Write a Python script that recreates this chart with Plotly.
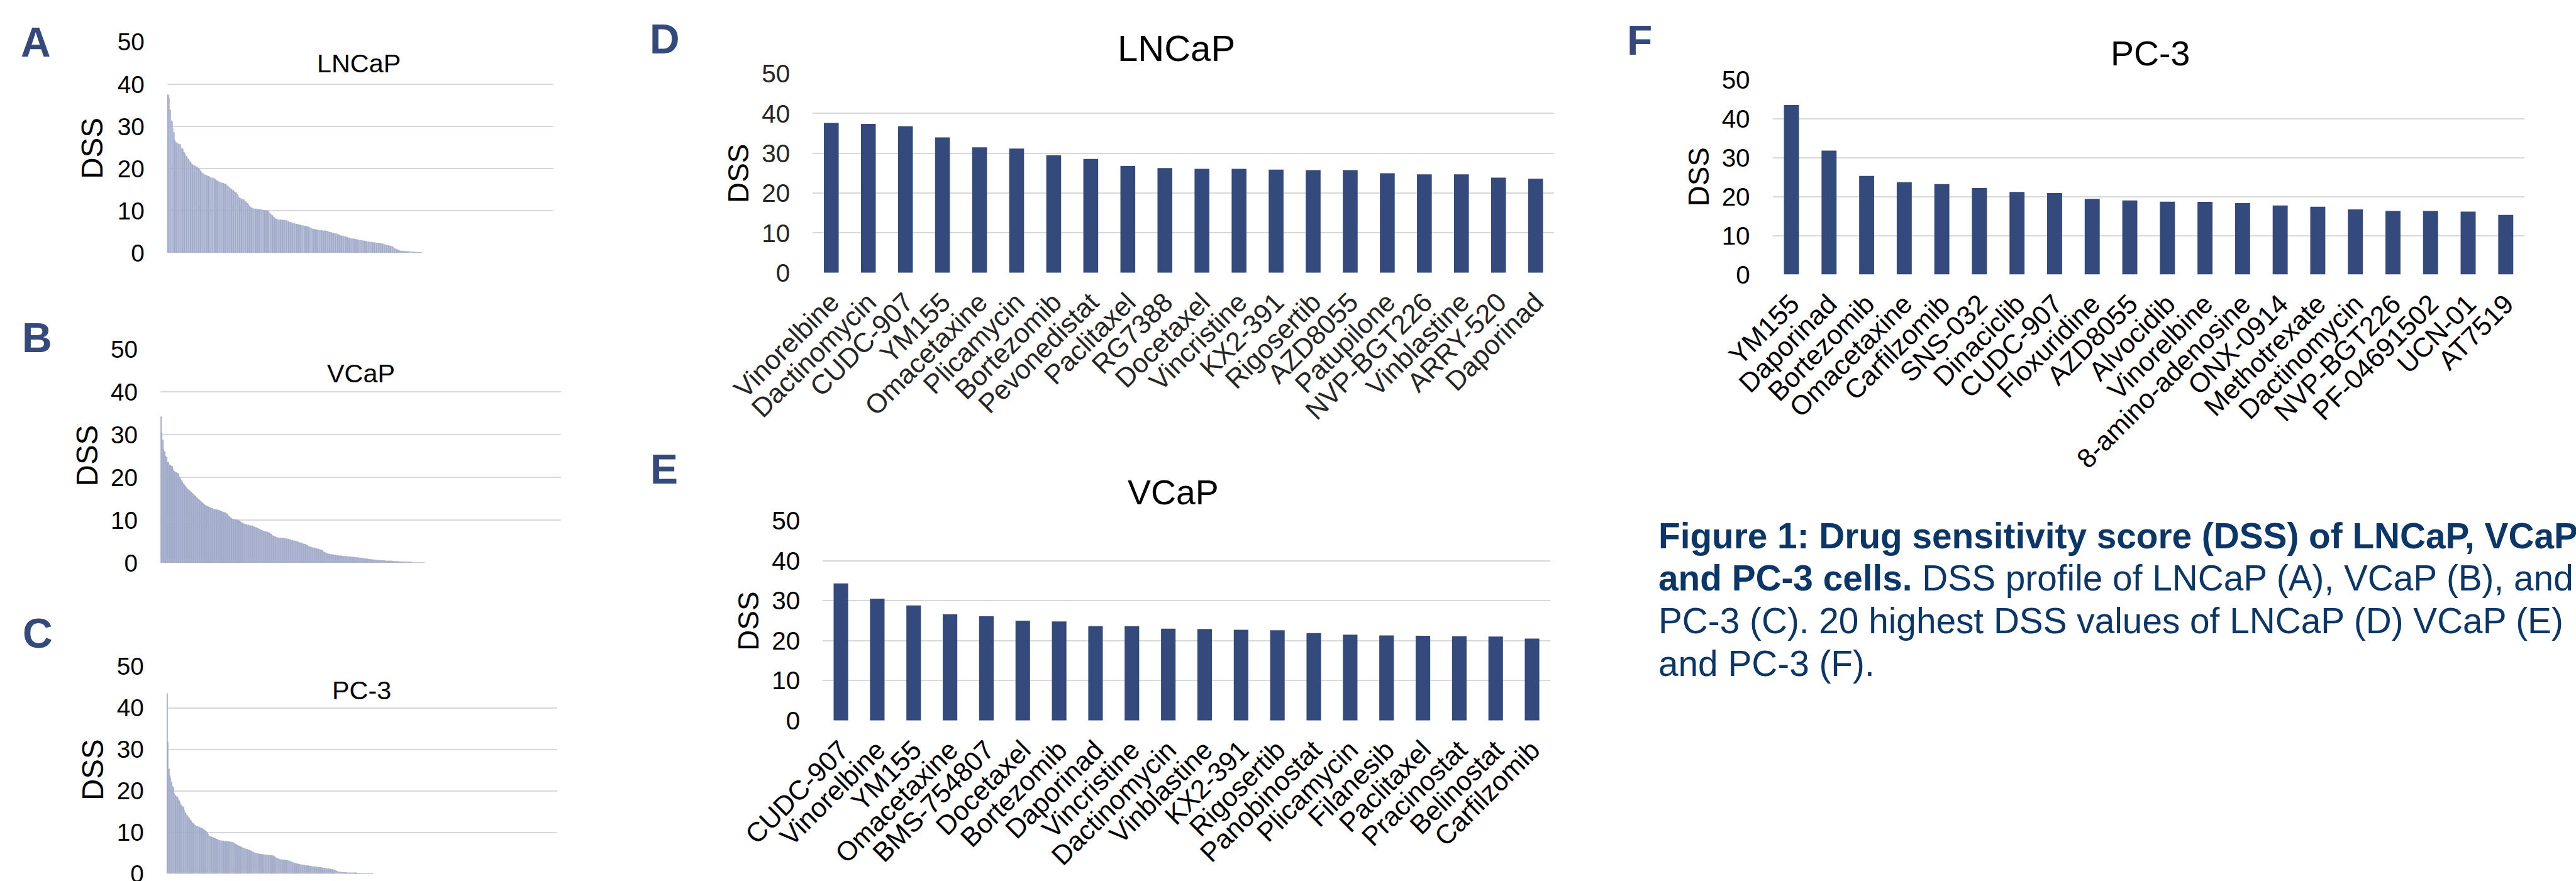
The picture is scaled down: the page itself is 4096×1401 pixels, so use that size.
import plotly.graph_objects as go

# ---------------------------------------------------------------------------
# Data: drug sensitivity scores (DSS)
# ---------------------------------------------------------------------------
# Size of the screened drug library (x extent of the profile panels A-C)
N_DRUGS = 425

# Full DSS profiles, sorted high -> low (only drugs with DSS > 0 listed)
lncap_profile = [
    37.6, 37.4, 36.8, 34.0, 31.5, 31.2, 29.5, 28.6, 26.8, 26.3, 26.1, 26.1, 25.9, 25.8, 25.8, 25.0, 24.7, 24.7, 23.9, 23.6,
    23.3, 23.0, 22.6, 22.3, 22.0, 21.7, 21.4, 21.0, 20.9, 20.8, 20.7, 20.6, 20.5, 20.4, 20.2, 19.9, 19.6, 19.3, 19.1, 18.9,
    18.7, 18.6, 18.5, 18.4, 18.3, 18.2, 18.1, 18.0, 17.9, 17.9, 17.8, 17.7, 17.6, 17.4, 17.2, 17.1, 17.0, 16.9, 16.8, 16.7,
    16.6, 16.6, 16.5, 16.4, 16.4, 16.2, 16.0, 15.8, 15.6, 15.4, 15.2, 15.0, 14.9, 14.7, 14.5, 14.4, 14.3, 13.9, 13.5, 13.1,
    13.0, 12.9, 12.8, 12.7, 12.7, 12.4, 12.2, 12.0, 11.8, 11.5, 11.2, 11.0, 10.8, 10.7, 10.6, 10.5, 10.5, 10.5, 10.4, 10.4,
    10.4, 10.3, 10.3, 10.3, 10.2, 10.2, 10.2, 10.1, 10.1, 10.1, 10.0, 9.9, 9.7, 9.4, 9.2, 9.0, 8.8, 8.5, 8.3, 8.1,
    8.0, 8.0, 7.9, 7.9, 7.9, 7.9, 7.8, 7.8, 7.8, 7.8, 7.8, 7.7, 7.6, 7.5, 7.4, 7.3, 7.3, 7.2, 7.1, 7.0,
    7.0, 6.9, 6.9, 6.8, 6.8, 6.7, 6.7, 6.6, 6.6, 6.5, 6.5, 6.4, 6.4, 6.3, 6.3, 6.2, 6.1, 6.0, 5.9, 5.8,
    5.7, 5.7, 5.6, 5.6, 5.5, 5.5, 5.5, 5.4, 5.4, 5.4, 5.4, 5.3, 5.3, 5.3, 5.3, 5.3, 5.2, 5.1, 5.0, 4.9,
    4.9, 4.8, 4.8, 4.7, 4.7, 4.6, 4.6, 4.5, 4.4, 4.3, 4.2, 4.1, 4.1, 4.0, 4.0, 3.9, 3.9, 3.8, 3.7, 3.6,
    3.6, 3.5, 3.5, 3.4, 3.4, 3.4, 3.3, 3.3, 3.2, 3.2, 3.1, 3.1, 3.0, 3.0, 3.0, 2.9, 2.9, 2.9, 2.8, 2.8,
    2.7, 2.7, 2.7, 2.6, 2.6, 2.6, 2.5, 2.5, 2.5, 2.5, 2.4, 2.4, 2.4, 2.4, 2.3, 2.3, 2.2, 2.2, 2.1, 2.0,
    2.0, 1.9, 1.9, 1.8, 1.7, 1.7, 1.6, 1.6, 1.5, 1.3, 1.1, 1.0, 0.9, 0.8, 0.7, 0.6, 0.6, 0.5, 0.5, 0.5,
    0.5, 0.4, 0.4, 0.4, 0.4, 0.4, 0.4, 0.3, 0.3, 0.3, 0.3, 0.3, 0.2, 0.2, 0.2, 0.2, 0.1, 0.1, 0.1, 0.1,
]

vcap_profile = [
    34.3, 30.5, 28.8, 26.6, 26.1, 25.0, 24.8, 23.6, 23.6, 23.0, 22.9, 22.7, 22.6, 21.9, 21.5, 21.3, 21.2, 21.1, 21.0, 20.5,
    20.1, 19.7, 19.3, 18.9, 18.6, 18.3, 18.0, 17.7, 17.4, 17.2, 17.0, 16.8, 16.6, 16.4, 16.2, 16.0, 15.8, 15.6, 15.3, 15.1,
    14.9, 14.7, 14.5, 14.3, 14.1, 13.9, 13.7, 13.5, 13.4, 13.3, 13.2, 13.1, 13.0, 12.9, 12.8, 12.7, 12.6, 12.6, 12.5, 12.5,
    12.4, 12.4, 12.3, 12.2, 12.1, 12.0, 11.9, 11.8, 11.8, 11.7, 11.5, 11.3, 11.0, 10.8, 10.6, 10.4, 10.3, 10.3, 10.2, 10.2,
    10.1, 10.1, 10.0, 9.9, 9.7, 9.5, 9.4, 9.3, 9.2, 9.1, 9.0, 9.0, 8.9, 8.9, 8.8, 8.8, 8.7, 8.7, 8.6, 8.5,
    8.4, 8.3, 8.2, 8.1, 8.0, 7.9, 7.8, 7.7, 7.6, 7.5, 7.4, 7.4, 7.3, 7.3, 7.2, 7.1, 7.0, 6.8, 6.6, 6.4,
    6.3, 6.2, 6.1, 6.0, 6.0, 5.9, 5.9, 5.9, 5.8, 5.8, 5.8, 5.8, 5.7, 5.7, 5.7, 5.6, 5.6, 5.5, 5.4, 5.3,
    5.3, 5.2, 5.2, 5.2, 5.1, 5.0, 4.9, 4.8, 4.8, 4.7, 4.6, 4.5, 4.5, 4.4, 4.3, 4.2, 4.1, 3.9, 3.8, 3.7,
    3.7, 3.6, 3.6, 3.5, 3.5, 3.4, 3.3, 3.3, 3.2, 3.1, 3.1, 3.0, 2.8, 2.6, 2.5, 2.4, 2.3, 2.2, 2.1, 2.1,
    2.0, 2.0, 2.0, 1.9, 1.9, 1.9, 1.8, 1.8, 1.8, 1.7, 1.7, 1.7, 1.7, 1.6, 1.6, 1.6, 1.6, 1.5, 1.5, 1.5,
    1.5, 1.5, 1.4, 1.4, 1.4, 1.4, 1.3, 1.3, 1.3, 1.3, 1.2, 1.2, 1.2, 1.2, 1.1, 1.1, 1.1, 1.0, 1.0, 1.0,
    0.9, 0.9, 0.9, 0.8, 0.8, 0.8, 0.8, 0.7, 0.7, 0.7, 0.7, 0.7, 0.6, 0.6, 0.6, 0.6, 0.6, 0.6, 0.5, 0.5,
    0.5, 0.5, 0.5, 0.5, 0.5, 0.5, 0.4, 0.4, 0.4, 0.4, 0.4, 0.4, 0.4, 0.3, 0.3, 0.3, 0.3, 0.3, 0.3, 0.3,
    0.2, 0.2, 0.2, 0.2, 0.2, 0.2, 0.2, 0.1, 0.1, 0.1, 0.1, 0.1, 0.1, 0.1, 0.1, 0.1, 0.05, 0.05, 0.05, 0.05,
]

pc3_profile = [
    43.5, 31.8, 25.3, 23.7, 23.2, 22.2, 21.2, 20.9, 19.4, 19.0, 18.7, 18.65, 18.3, 17.7, 17.4, 16.7, 16.3, 16.3, 16.15, 15.3,
    14.8, 14.4, 14.1, 13.8, 13.5, 13.2, 12.9, 12.5, 12.3, 12.1, 11.9, 11.7, 11.6, 11.5, 11.4, 11.3, 11.2, 11.1, 11.0, 10.9,
    10.7, 10.5, 10.4, 10.3, 10.0, 9.6, 9.2, 9.1, 9.0, 8.9, 8.8, 8.7, 8.6, 8.5, 8.4, 8.3, 8.2, 8.1, 8.1, 8.0,
    8.0, 8.0, 7.9, 7.9, 7.9, 7.8, 7.8, 7.8, 7.8, 7.7, 7.7, 7.7, 7.6, 7.5, 7.3, 7.2, 7.0, 6.9, 6.8, 6.7,
    6.6, 6.5, 6.4, 6.3, 6.2, 6.1, 6.0, 6.0, 5.9, 5.8, 5.7, 5.6, 5.5, 5.4, 5.3, 5.2, 5.1, 5.0, 5.0, 4.9,
    4.9, 4.8, 4.8, 4.8, 4.7, 4.7, 4.7, 4.6, 4.6, 4.6, 4.5, 4.5, 4.5, 4.5, 4.4, 4.4, 4.4, 4.2, 4.0, 3.9,
    3.8, 3.7, 3.6, 3.5, 3.5, 3.5, 3.4, 3.4, 3.4, 3.3, 3.3, 3.3, 3.2, 3.2, 3.1, 3.0, 2.9, 2.8, 2.7, 2.6,
    2.6, 2.5, 2.5, 2.4, 2.4, 2.3, 2.3, 2.2, 2.2, 2.1, 2.1, 2.1, 2.0, 2.0, 2.0, 1.9, 1.9, 1.9, 1.8, 1.8,
    1.8, 1.8, 1.7, 1.7, 1.7, 1.6, 1.6, 1.6, 1.5, 1.5, 1.5, 1.4, 1.4, 1.4, 1.3, 1.3, 1.3, 1.2, 1.2, 1.1,
    1.1, 1.0, 1.0, 0.9, 0.8, 0.7, 0.6, 0.5, 0.5, 0.5, 0.4, 0.4, 0.4, 0.4, 0.4, 0.4, 0.3, 0.3, 0.3, 0.3,
    0.3, 0.3, 0.3, 0.3, 0.3, 0.3, 0.3, 0.2, 0.2, 0.2, 0.2, 0.2, 0.2, 0.2, 0.2, 0.1, 0.1, 0.1, 0.1, 0.1,
    0.1, 0.1, 0.05, 0.05, 0.05,
]

# Top-20 drugs per cell line
lncap_top_drugs = [
    "Vinorelbine", "Dactinomycin", "CUDC-907", "YM155", "Omacetaxine", "Plicamycin",
    "Bortezomib", "Pevonedistat", "Paclitaxel", "RG7388", "Docetaxel", "Vincristine",
    "KX2-391", "Rigosertib", "AZD8055", "Patupilone", "NVP-BGT226", "Vinblastine",
    "ARRY-520", "Daporinad",
]
lncap_top_dss = [37.6, 37.4, 36.8, 34.0, 31.5, 31.2, 29.5, 28.6, 26.8, 26.3,
                 26.1, 26.1, 25.9, 25.8, 25.8, 25.0, 24.7, 24.7, 23.9, 23.6]

vcap_top_drugs = [
    "CUDC-907", "Vinorelbine", "YM155", "Omacetaxine", "BMS-754807", "Docetaxel",
    "Bortezomib", "Daporinad", "Vincristine", "Dactinomycin", "Vinblastine", "KX2-391",
    "Rigosertib", "Panobinostat", "Plicamycin", "Filanesib", "Paclitaxel", "Pracinostat",
    "Belinostat", "Carfilzomib",
]
vcap_top_dss = [34.3, 30.5, 28.8, 26.6, 26.1, 25.0, 24.8, 23.6, 23.6, 23.0,
                22.9, 22.7, 22.6, 21.9, 21.5, 21.3, 21.2, 21.1, 21.0, 20.5]

pc3_top_drugs = [
    "YM155", "Daporinad", "Bortezomib", "Omacetaxine", "Carfilzomib", "SNS-032",
    "Dinaciclib", "CUDC-907", "Floxuridine", "AZD8055", "Alvocidib", "Vinorelbine",
    "8-amino-adenosine", "ONX-0914", "Methotrexate", "Dactinomycin", "NVP-BGT226",
    "PF-04691502", "UCN-01", "AT7519",
]
pc3_top_dss = [43.5, 31.8, 25.3, 23.7, 23.2, 22.2, 21.2, 20.9, 19.4, 19.0,
               18.7, 18.65, 18.3, 17.7, 17.4, 16.7, 16.3, 16.3, 16.15, 15.3]

y_ticks = [0, 10, 20, 30, 40, 50]

# ---------------------------------------------------------------------------
# Layout helpers (positions given on a 4656 x 1592 design grid)
# ---------------------------------------------------------------------------
GRID_W, GRID_H = 4656.0, 1592.0
FIG_W, FIG_H = 4096, 1401
S = FIG_W / GRID_W


def fx(px):
    return px / GRID_W


def fy(py):
    return 1.0 - py / GRID_H


def fs(px):
    return px * S


FONT = "Liberation Sans, Arial, sans-serif"
BAR_DARK = "#354a7c"
BAR_PROFILE = "#a2acca"
GRID = "#d9d9d9"
LETTER_COLOR = "#34497c"
CAPTION_COLOR = "#0b3668"

fig = go.Figure()

profile_panels = [
    dict(values=lncap_profile, x0=302, x1=1000, ytop=76, ybot=457,
         title="LNCaP", title_xy=(649, 115), dss_xy=(167, 268), letter="A", letter_xy=(65, 76)),
    dict(values=vcap_profile, x0=290, x1=1014, ytop=631, ybot=1017,
         title="VCaP", title_xy=(652, 675), dss_xy=(157, 823), letter="B", letter_xy=(67, 610)),
    dict(values=pc3_profile, x0=301, x1=1007, ytop=1204, ybot=1579,
         title="PC-3", title_xy=(654, 1248), dss_xy=(167, 1391), letter="C", letter_xy=(68, 1144)),
]

top_panels = [
    dict(names=lncap_top_drugs, values=lncap_top_dss, x0=1469, x1=2809, ytop=133, ybot=493,
         title="LNCaP", title_xy=(2126, 87), title_size=66, dss_xy=(1335, 313),
         letter="D", letter_xy=(1201, 70), tick_color="#262626"),
    dict(names=vcap_top_drugs, values=vcap_top_dss, x0=1487, x1=2802, ytop=941, ybot=1302,
         title="VCaP", title_xy=(2120, 890), title_size=63, dss_xy=(1353, 1122),
         letter="E", letter_xy=(1200, 848), tick_color="#000000"),
    dict(names=pc3_top_drugs, values=pc3_top_dss, x0=3204, x1=4563, ytop=144, ybot=496,
         title="PC-3", title_xy=(3887, 97), title_size=63, dss_xy=(3071, 320),
         letter="F", letter_xy=(2963, 73), tick_color="#000000"),
]

annotations = []


def y_axis_style(ytop, ybot, size, color):
    return dict(
        domain=[fy(ybot), fy(ytop)], range=[0, 50], tickvals=y_ticks,
        showgrid=True, gridcolor=GRID, gridwidth=2, zeroline=False,
        showline=False, ticks="", ticklabelstandoff=int(round(fs(40))),
        ticklabeloverflow="allow",
        tickfont=dict(family=FONT, size=fs(size), color=color),
        automargin=False, fixedrange=True,
    )


def add_text(x, y, text, size, color="#000000", bold=False, angle=0, xanchor="center"):
    annotations.append(dict(
        x=fx(x), y=fy(y), xref="paper", yref="paper", text=text, showarrow=False,
        xanchor=xanchor, yanchor="middle", textangle=angle,
        font=dict(family=FONT, size=fs(size), color=color,
                  weight="bold" if bold else "normal"),
    ))


axis_idx = 0
for p in profile_panels:
    axis_idx += 1
    suffix = "" if axis_idx == 1 else str(axis_idx)
    xa, ya = "x" + suffix, "y" + suffix
    fig.add_trace(go.Bar(
        x=list(range(len(p["values"]))), y=p["values"], xaxis=xa, yaxis=ya,
        marker=dict(color=BAR_PROFILE, line=dict(width=0)), width=0.5,
        showlegend=False, hoverinfo="skip",
    ))
    fig.layout["xaxis" + suffix] = dict(
        domain=[fx(p["x0"]), fx(p["x1"])], range=[-0.5, N_DRUGS - 0.5],
        showticklabels=False, showgrid=False, zeroline=False, showline=False,
        anchor=ya, automargin=False, fixedrange=True,
    )
    ystyle = y_axis_style(p["ytop"], p["ybot"], 44, "#000000")
    ystyle["anchor"] = xa
    fig.layout["yaxis" + suffix] = ystyle
    add_text(*p["title_xy"], p["title"], 47)
    add_text(*p["dss_xy"], "DSS", 54, angle=-90)
    add_text(*p["letter_xy"], p["letter"], 75, color=LETTER_COLOR, bold=True)

for p in top_panels:
    axis_idx += 1
    suffix = str(axis_idx)
    xa, ya = "x" + suffix, "y" + suffix
    fig.add_trace(go.Bar(
        x=p["names"], y=p["values"], xaxis=xa, yaxis=ya,
        marker=dict(color=BAR_DARK, line=dict(width=0)), width=0.4,
        showlegend=False, hoverinfo="skip",
    ))
    fig.layout["xaxis" + suffix] = dict(
        domain=[fx(p["x0"]), fx(p["x1"])], range=[-0.5, len(p["names"]) - 0.5],
        type="category", tickangle=-45, ticks="", showgrid=False, zeroline=False,
        showline=False, ticklabelstandoff=int(round(fs(14))),
        tickfont=dict(family=FONT, size=fs(49), color=p["tick_color"]),
        anchor=ya, automargin=False, fixedrange=True,
    )
    ystyle = y_axis_style(p["ytop"], p["ybot"], 46, p["tick_color"])
    ystyle["anchor"] = xa
    fig.layout["yaxis" + suffix] = ystyle
    add_text(*p["title_xy"], p["title"], p["title_size"])
    add_text(*p["dss_xy"], "DSS", 52, angle=-90)
    add_text(*p["letter_xy"], p["letter"], 75, color=LETTER_COLOR, bold=True)

# Figure legend text
caption_lines = [
    "<b>Figure 1: Drug sensitivity score (DSS) of LNCaP, VCaP</b>",
    "<b>and PC-3 cells.</b> DSS profile of LNCaP (A), VCaP (B), and",
    "PC-3 (C). 20 highest DSS values of LNCaP (D) VCaP (E)",
    "and PC-3 (F).",
]
caption_y = [969, 1045, 1122, 1199]
for line, yy in zip(caption_lines, caption_y):
    add_text(2995, yy, line, 64.5, color=CAPTION_COLOR, xanchor="left")

fig.update_layout(
    width=FIG_W, height=FIG_H,
    margin=dict(l=0, r=0, t=0, b=0, pad=0),
    paper_bgcolor="white", plot_bgcolor="white",
    bargap=0.6, annotations=annotations,
    font=dict(family=FONT),
)

fig.write_html("out.html", config={"displayModeBar": False})
